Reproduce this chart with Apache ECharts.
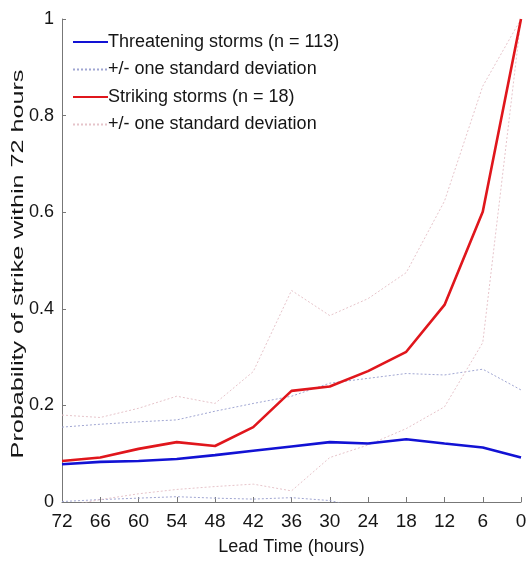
<!DOCTYPE html>
<html>
<head>
<meta charset="utf-8">
<script src="https://cdn.jsdelivr.net/npm/echarts@6/dist/echarts.min.js"></script>
<style>
  html, body { margin: 0; padding: 0; background: #fff; }
  #chart { width: 529px; height: 561px; }
</style>
</head>
<body>
<div id="chart"></div>
<script>
// lead time in hours (axis runs 72 -> 0)
var leadTime = [72, 66, 60, 54, 48, 42, 36, 30, 24, 18, 12, 6, 0];

// threatening storms
var threatMean  = [0.078, 0.083, 0.085, 0.089, 0.097, 0.106, 0.115, 0.124, 0.121, 0.130, 0.121, 0.113, 0.092];
var threatUpper = [0.155, 0.161, 0.166, 0.170, 0.188, 0.204, 0.219, 0.246, 0.256, 0.266, 0.263, 0.275, 0.232];
var threatLower = [0.001, 0.005, 0.008, 0.011, 0.008, 0.006, 0.009, 0.003, -0.015, -0.006, -0.021, -0.049, -0.048];

// striking storms
var strikeMean  = [0.085, 0.092, 0.110, 0.124, 0.116, 0.155, 0.230, 0.239, 0.271, 0.311, 0.408, 0.601, 1.0];
var strikeUpper = [0.180, 0.175, 0.194, 0.219, 0.204, 0.270, 0.438, 0.386, 0.421, 0.475, 0.623, 0.861, 1.0];
var strikeLower = [-0.010, 0.005, 0.017, 0.026, 0.032, 0.037, 0.023, 0.092, 0.118, 0.152, 0.197, 0.330, 1.0];

var yTicks = [0, 0.2, 0.4, 0.6, 0.8, 1];

function pairs(ys) {
  return leadTime.map(function (x, i) { return [x, ys[i]]; });
}

var FONT = '"Liberation Sans", Arial, sans-serif';
var BLUE = '#1212d4';
var RED = '#e0161c';
var BLUE_SD = '#a0a6d2';
var RED_SD = '#e6c4ca';

function solid(name, ys, color) {
  return {
    name: name, type: 'line', data: pairs(ys), symbol: 'none',
    lineStyle: { color: color, width: 2.6 }, itemStyle: { color: color },
    z: 5
  };
}
function dotted(name, ys, color) {
  return {
    name: name, type: 'line', data: pairs(ys), symbol: 'none',
    lineStyle: { color: color, width: 1, type: [2, 2] }, itemStyle: { color: color },
    z: 2
  };
}

var chart = echarts.init(document.getElementById('chart'));
chart.setOption({
  animation: false,
  textStyle: { fontFamily: FONT },
  grid: { left: 62, right: 8, top: 19, bottom: 59, outerBoundsMode: 'none', containLabel: false },
  legend: {
    orient: 'vertical',
    left: 72, top: 33, padding: 0,
    itemWidth: 35, itemHeight: 12, itemGap: 9.5,
    itemStyle: { opacity: 0 },
    data: ['Threatening storms (n = 113)', '+/- one standard deviation',
           'Striking storms (n = 18)', '+/- one standard deviation '],
    formatter: function (n) { return n.trim(); },
    textStyle: { fontFamily: FONT, fontSize: 18, color: '#151515', padding: [0, 0, 0, -5] }
  },
  xAxis: {
    type: 'value', inverse: true, min: 0, max: 72, interval: 6,
    name: 'Lead Time (hours)', nameLocation: 'middle', nameGap: 36,
    nameTextStyle: { fontFamily: FONT, fontSize: 18, color: '#151515' },
    axisLine: { lineStyle: { color: '#777' } },
    axisTick: { inside: true, length: 5, lineStyle: { color: '#777' } },
    axisLabel: { fontFamily: FONT, fontSize: 19, color: '#151515', margin: 10 },
    splitLine: { show: false }
  },
  yAxis: {
    type: 'value', min: 0, max: 1, interval: 0.2,
    axisLine: { show: true, onZero: false, lineStyle: { color: '#777' } },
    axisTick: { show: true, inside: true, length: 4, lineStyle: { color: '#777' } },
    axisLabel: {
      fontFamily: FONT, fontSize: 18, color: '#151515', margin: 8,
      formatter: function (v) { return yTicks.indexOf(v) >= 0 ? String(v) : ''; }
    },
    splitLine: { show: false }
  },
  // y title: the source figure was squeezed horizontally, so its vertical title looks stretched
  graphic: [{
    type: 'text',
    x: 18, y: 264,
    rotation: Math.PI / 2,
    scaleX: 1.48,
    style: {
      text: 'Probability of strike within 72 hours',
      font: '17px "Liberation Sans", Arial, sans-serif',
      fill: '#151515',
      align: 'center',
      verticalAlign: 'middle'
    }
  }],
  series: [
    dotted('+/- one standard deviation', threatUpper, BLUE_SD),
    dotted('threat lower', threatLower, BLUE_SD),
    dotted('+/- one standard deviation ', strikeUpper, RED_SD),
    dotted('strike lower', strikeLower, RED_SD),
    solid('Threatening storms (n = 113)', threatMean, BLUE),
    solid('Striking storms (n = 18)', strikeMean, RED)
  ]
});
</script>
</body>
</html>
